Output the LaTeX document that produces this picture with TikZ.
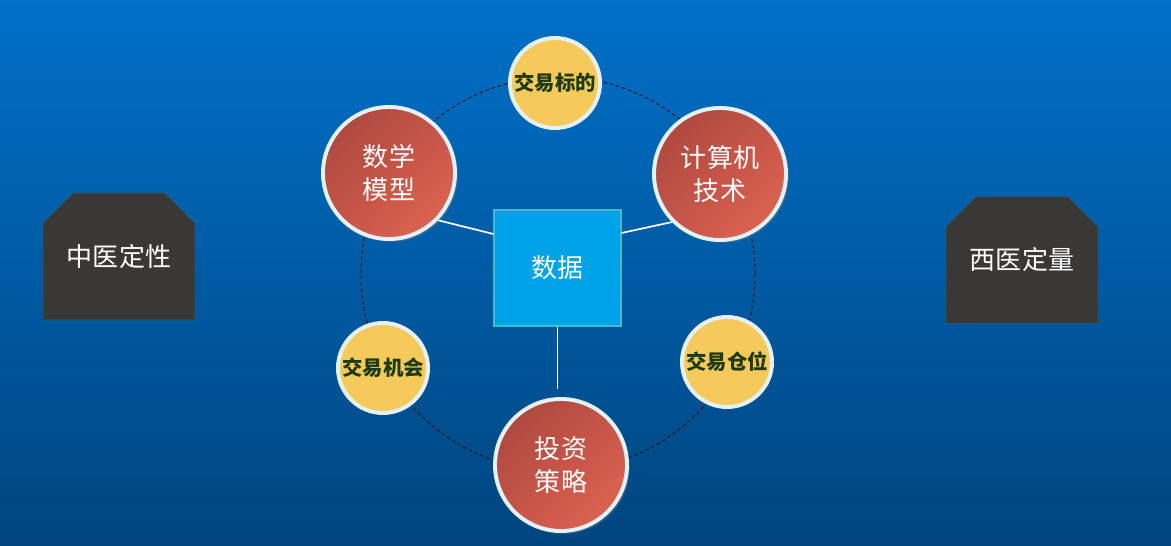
\documentclass[tikz,border=0pt]{standalone}
\usepackage{fontspec}
\newfontfamily\cjk{Noto Sans CJK SC}
\usetikzlibrary{shapes.misc,shadows,shadings}
\definecolor{bgtop}{HTML}{0070C8}
\definecolor{bgbot}{HTML}{00457F}
\definecolor{boxgray}{HTML}{393837}
\definecolor{boxline}{HTML}{1F5E6E}
\definecolor{datablue}{HTML}{00A2E8}
\definecolor{dataline}{HTML}{4DB6C6}
\definecolor{redA}{HTML}{A6443A}
\definecolor{redB}{HTML}{C5554A}
\definecolor{redC}{HTML}{E56752}
\definecolor{ringwhite}{HTML}{E4F2F8}
\definecolor{gold}{HTML}{F5C95A}
\definecolor{goldtext}{HTML}{1E3A12}
\tikzset{
    sidebox/.style={chamfered rectangle, chamfered rectangle corners={north east, north west},
        chamfered rectangle xsep=0.5cm, chamfered rectangle ysep=0.45cm,
        fill=boxgray, draw=boxline, line width=0.6pt,
        minimum width=3.8cm, minimum height=3.175cm, inner sep=0pt,
        text=white, font=\cjk\fontsize{18.5}{22}\selectfont},
    bigball/.style={circle, minimum size=3.3cm, inner sep=0pt,
        draw=ringwhite, line width=2.8pt,
        upper left=redA, upper right=redB, lower left=redB, lower right=redC,
        drop shadow={shadow xshift=2pt, shadow yshift=-2pt, opacity=0.35},
        text=white, align=center, font=\cjk\fontsize{18.5}{23}\selectfont},
    smallball/.style={circle, minimum size=2.25cm, inner sep=0pt,
        draw=ringwhite, line width=2.8pt, fill=gold,
        text=goldtext, font=\cjk\bfseries\fontsize{14.5}{18}\selectfont},
    link/.style={white, line width=1.2pt},
}
\begin{document}
\begin{tikzpicture}[x=0.025cm, y=-0.025cm]
% background
\fill[top color=bgtop, bottom color=bgbot] (0,0) rectangle (1171,546);
\useasboundingbox (0,0) rectangle (1171,546);
% dashed ring
\draw[black!90, line width=0.7pt, dash pattern=on 2.5pt off 2pt] (558,274) circle (197);
% side boxes
\node[sidebox] (tcm) at (119,256.5) {中医定性};
\node[sidebox] (wm) at (1022,260) {西医定量};
% centre
\node[fill=datablue, draw=dataline, line width=0.8pt, minimum width=3.175cm, minimum height=2.9cm,
      text=white, font=\cjk\fontsize{18.5}{22}\selectfont] (data) at (557.5,268) {数据};
% big circles
\node[bigball] (math) at (389,173) {数学\\模型};
\node[bigball] (comp) at (720,174) {计算机\\技术};
\node[bigball] (strat) at (561,465) {投资\\策略};
% small circles
\node[smallball] (target) at (555,83) {交易标的};
\node[smallball] (chance) at (383,368) {交易机会};
\node[smallball] (pos) at (727,362) {交易仓位};
% links
\draw[link] ([yshift=0.85cm]data.west) -- (math.-44);
\draw[link] ([yshift=0.875cm]data.east) -- (comp.-135);
\draw[link, shorten >=0.2cm] (data.south) -- (data.south |- strat.north);
\end{tikzpicture}
\end{document}
